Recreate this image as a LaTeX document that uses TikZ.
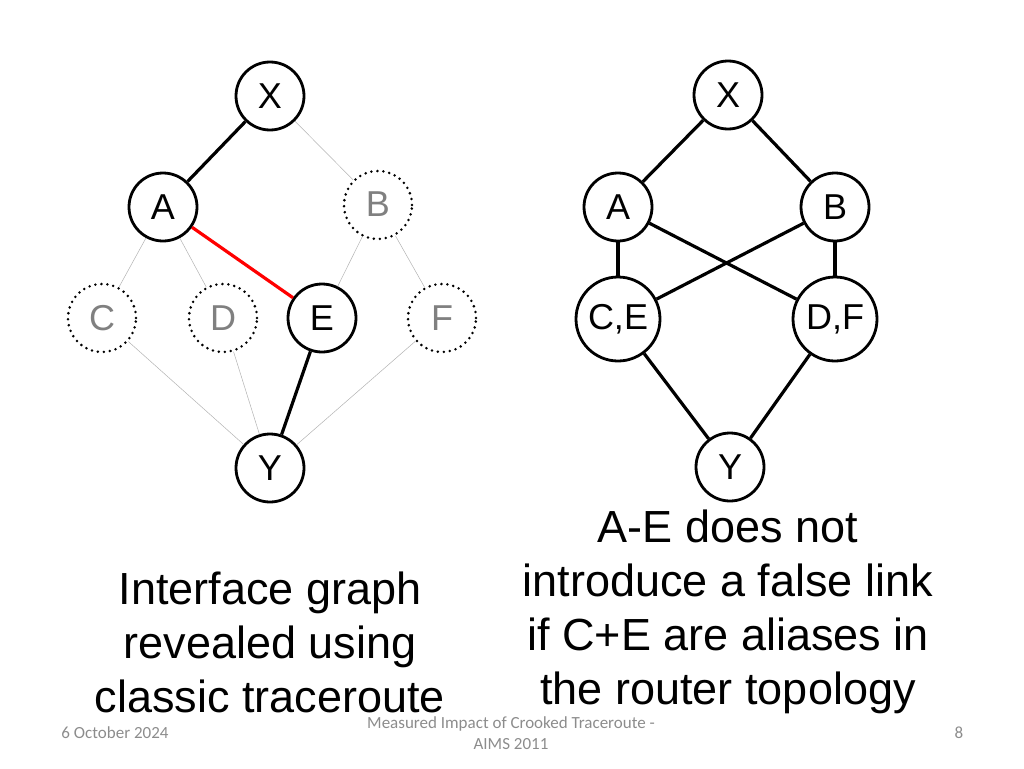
\documentclass[tikz,border=0pt]{standalone}
\usepackage{fontspec}
\setmainfont{Liberation Sans}
\newfontfamily\footfont{Carlito}
\begin{document}
\begin{tikzpicture}[x=1pt,y=-1pt,
  nd/.style={circle,draw=black,line width=2.8pt,fill=white,minimum size=68pt,inner sep=0pt,font=\fontsize{36}{40}\selectfont},
  big/.style={nd,minimum size=84pt},
  ghost/.style={circle,draw=black,line width=2.8pt,line cap=round,dash pattern=on 0pt off 6pt,fill=white,minimum size=68pt,inner sep=0pt,text=gray,font=\fontsize{36}{40}\selectfont},
  thin/.style={draw=gray!60,line width=0.5pt},
  heavy/.style={draw=black,line width=3.2pt},
  redl/.style={draw=red,line width=3.2pt},
  caption/.style={align=center,font=\fontsize{45}{54}\selectfont},
  foot/.style={text=gray!90,font=\footfont\fontsize{17}{21.5}\selectfont,align=center}]
\useasboundingbox (0,0) rectangle (1024,768);
% left graph
\node[nd] (lx) at (270,96) {X};
\node[nd] (la) at (163,207) {A};
\node[ghost] (lb) at (378,205) {\raisebox{2pt}{B}};
\node[ghost] (lc) at (102,318) {C};
\node[ghost] (ld) at (223,318) {D};
\node[nd] (le) at (322,318) {\raisebox{-3pt}{E}};
\node[ghost] (lf) at (442,318) {F};
\node[nd] (ly) at (270,468) {Y};
\draw[thin] (lx) -- (lb);
\draw[thin] (la) -- (lc);
\draw[thin] (la) -- (ld);
\draw[thin] (lb) -- (le);
\draw[thin] (lb) -- (lf);
\draw[thin] (lc) -- (ly);
\draw[thin] (ld) -- (ly);
\draw[thin] (lf) -- (ly);
\draw[heavy] (lx) -- (la);
\draw[heavy] (le) -- (ly);
\draw[redl] (la) -- (le);
% right graph
\node[nd] (rx) at (728,95) {X};
\node[nd] (ra) at (618,207) {A};
\node[nd] (rb) at (835,207) {B};
\node[big] (rce) at (618,319) {C,E};
\node[big] (rdf) at (835,319) {D,F};
\node[nd] (ry) at (730,467) {Y};
\draw[heavy] (rx) -- (ra);
\draw[heavy] (rx) -- (rb);
\draw[heavy] (ra) -- (rce);
\draw[heavy] (rb) -- (rdf);
\draw[heavy] (ra) -- (rdf);
\draw[heavy] (rb) -- (rce);
\draw[heavy] (rce) -- (ry);
\draw[heavy] (rdf) -- (ry);
% captions
\node[caption] (capl) at (270,642) {Interface graph\\revealed using\\classic traceroute};
\node[caption] (capr) at (728,612) {A-E does not\\introduce a false link\\if C+E are aliases in\\the router topology};
% footer
\node[foot] (date) at (115,733) {6 October 2024};
\node[foot] (title) at (511,733) {Measured Impact of Crooked Traceroute -\\AIMS 2011};
\node[foot] (page) at (959,733) {8};
\end{tikzpicture}
\end{document}
